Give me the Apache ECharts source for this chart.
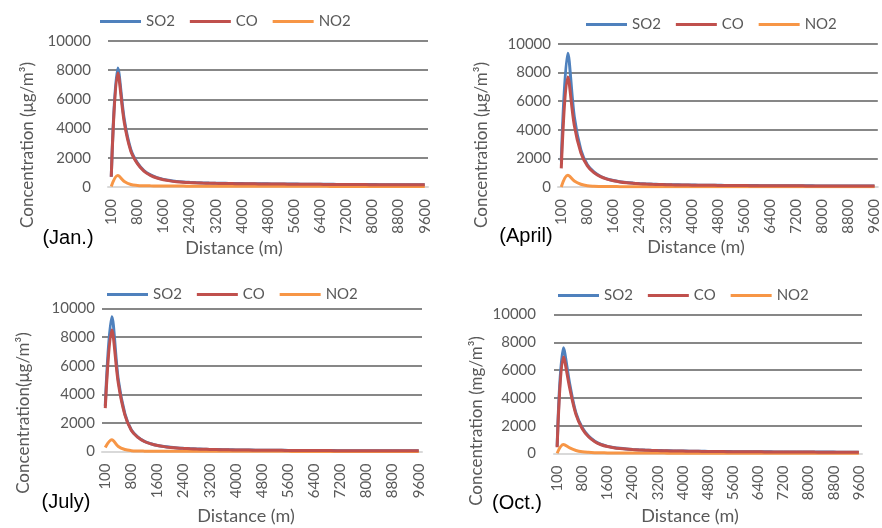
<!DOCTYPE html>
<html>
<head>
<meta charset="utf-8">
<script src="https://cdn.jsdelivr.net/npm/echarts@6/dist/echarts.min.js"></script>
<style>
html,body{margin:0;padding:0;background:#fff;}
#c{width:882px;height:528px;}
</style>
</head>
<body>
<div id="c"></div>
<script>
// Distance categories (m)
const distances = [100,200,400,600,800,1000,1200,1400,1600,1800,2000,2200,2400,2600,2800,3000,3200,3400,3600,3800,4000,4200,4400,4600,4800,5000,5200,5400,5600,5800,6000,6200,6400,6600,6800,7000,7200,7400,7600,7800,8000,8200,8400,8600,8800,9000,9200,9400,9600];
const yTicks = [0,2000,4000,6000,8000,10000];

// January
const janSO2 = [700,8150,4600,2550,1650,1130,830,640,520,440,385,345,318,298,282,270,260,252,245,239,233,228,224,220,216,212,208,204,200,196,192,189,186,183,180,177,174,171,168,166,164,162,160,158,156,154,152,150,148];
const janCO  = [700,7800,4400,2450,1600,1090,800,615,500,420,365,328,302,284,270,259,250,243,236,230,225,220,216,212,208,204,200,196,193,190,187,184,181,178,175,172,169,167,165,163,161,159,157,155,153,151,149,147,146];
const janNO2 = [30,780,380,170,110,88,78,72,68,65,62,60,58,57,56,55,54,53,52,51,50,50,49,48,48,47,46,46,45,45,44,44,43,43,42,42,41,41,40,40,40,39,39,38,38,38,37,37,37];

// April
const aprSO2 = [1800,9350,4900,2600,1550,1050,750,570,450,370,310,270,240,215,195,180,168,158,150,143,137,131,126,121,117,113,109,106,103,100,97,94,92,90,88,86,84,82,80,78,77,75,74,72,71,70,69,68,67];
const aprCO  = [1300,7700,4300,2400,1480,1000,720,550,435,355,300,260,230,206,188,174,162,152,144,137,131,126,121,117,113,109,105,102,99,96,93,91,89,87,85,83,81,79,77,76,74,73,71,70,69,68,67,66,65];
const aprNO2 = [0,820,420,190,85,50,38,32,28,26,24,23,22,21,20,20,19,19,18,18,17,17,17,16,16,16,15,15,15,15,14,14,14,14,13,13,13,13,13,12,12,12,12,12,11,11,11,11,11];

// July
const julSO2 = [3200,9420,5000,2650,1500,1010,710,545,425,345,290,250,220,196,176,160,147,136,127,119,112,106,101,96,92,88,84,81,78,75,72,70,68,66,64,62,60,58,57,55,54,53,51,50,49,48,47,46,45];
const julCO  = [3030,8490,4770,2560,1470,990,700,535,418,340,285,245,216,192,173,157,144,133,124,116,109,103,98,93,89,85,82,79,76,73,71,69,67,65,63,61,59,57,56,54,53,52,50,49,48,47,46,45,44];
const julNO2 = [280,820,350,140,60,35,26,22,19,17,16,15,14,13,13,12,12,11,11,11,10,10,10,10,9,9,9,9,9,8,8,8,8,8,8,7,7,7,7,7,7,7,6,6,6,6,6,6,6];

// October
const octSO2 = [500,7600,5000,2900,1850,1250,880,650,515,430,370,325,292,266,245,228,214,202,192,183,175,168,162,156,151,146,142,138,134,131,128,125,122,119,117,115,113,111,109,107,105,103,102,100,99,97,96,95,94];
const octCO  = [450,6950,4700,2800,1780,1200,850,630,500,418,360,318,286,260,240,223,209,198,188,179,171,164,158,152,147,142,138,134,130,127,124,121,118,116,113,111,109,107,105,103,101,99,98,96,95,94,92,91,90];
const octNO2 = [20,640,400,220,125,82,60,49,43,39,36,34,32,31,30,29,28,27,26,26,25,25,24,24,23,23,22,22,22,21,21,21,20,20,20,20,19,19,19,19,18,18,18,18,18,17,17,17,17];

const seriesNames = ['SO2','CO','NO2'];
const colors = ['#4F81BD','#C0504D','#F79646'];

const panels = [
  {data:[janSO2,janCO,janNO2], grid:{left:108,top:41,width:320,height:146}, lblMargin:17, legend:{left:95,top:9},
   yTitle:'Concentration (μg/m³)', yT:[28,145], month:'(Jan.)', mPos:[68,238], xT:[234,248]},
  {data:[aprSO2,aprCO,aprNO2], grid:{left:558,top:44,width:324,height:143}, lblMargin:7, legend:{left:581,top:12},
   yTitle:'Concentration (μg/m³)', yT:[482,145], month:'(April)', mPos:[526,236], xT:[696,247]},
  {data:[julSO2,julCO,julNO2], grid:{left:102,top:308.5,width:320,height:143}, lblMargin:7, legend:{left:102,top:282},
   yTitle:'Concentration(μg/m³)', yT:[24,413], month:'(July)', mPos:[66,502], xT:[246,516]},
  {data:[octSO2,octCO,octNO2], grid:{left:554,top:314.5,width:308,height:139}, lblMargin:18, legend:{left:553,top:283},
   yTitle:'Concentration (mg/m³)', yT:[477,421], month:'(Oct.)', mPos:[517,503], xT:[690,516]}
];

const font = 'Lato, "Open Sans", sans-serif';
const option = {
  animation:false,
  color:colors,
  grid:[], xAxis:[], yAxis:[], series:[], legend:[], graphic:[]
};

panels.forEach((p,i)=>{
  option.grid.push(Object.assign({containLabel:false}, p.grid));
  option.xAxis.push({
    type:'category', gridIndex:i, data:distances, boundaryGap:true,
    axisLine:{show:true, lineStyle:{color:'#d9d9d9', width:2}},
    axisTick:{show:false},
    axisLabel:{interval:3, rotate:90, margin:12, color:'#595959', fontSize:15, fontFamily:font}
  });
  option.yAxis.push({
    type:'value', gridIndex:i, min:yTicks[0], max:yTicks[yTicks.length-1], interval:2000,
    axisLine:{show:false}, axisTick:{show:false},
    axisLabel:{margin:p.lblMargin, color:'#595959', fontSize:15, fontFamily:font, formatter:(v)=>String(v)},
    splitLine:{show:true, lineStyle:{color:'#878787', width:2}}
  });
  p.data.forEach((d,k)=>{
    option.series.push({
      name:seriesNames[k], type:'line', xAxisIndex:i, yAxisIndex:i, data:d,
      smooth:0.35, symbol:'none', lineStyle:{width:3, color:colors[k]}, itemStyle:{color:colors[k]}, z:3+ (k===1?1:0)
    });
  });
  option.legend.push({
    data:seriesNames, left:p.legend.left, top:p.legend.top, icon:'rect', itemWidth:41, itemHeight:3,
    itemGap:15, textStyle:{color:'#595959', fontSize:15, fontFamily:font}, selectedMode:false
  });
  option.graphic.push(
    {type:'text', x:p.yT[0], y:p.yT[1], rotation:Math.PI/2,
     style:{text:p.yTitle, fill:'#595959', font:'17px '+font, align:'center', verticalAlign:'middle'}},
    {type:'text', x:p.mPos[0], y:p.mPos[1],
     style:{text:p.month, fill:'#000', font:'20px "Liberation Sans", Arial, sans-serif', align:'center', verticalAlign:'middle'}},
    {type:'text', x:p.xT[0], y:p.xT[1],
     style:{text:'Distance (m)', fill:'#595959', font:'18px '+font, align:'center', verticalAlign:'middle'}}
  );
});

const chart = echarts.init(document.getElementById('c'), null, {renderer:'canvas'});
chart.setOption(option);
</script>
</body>
</html>
